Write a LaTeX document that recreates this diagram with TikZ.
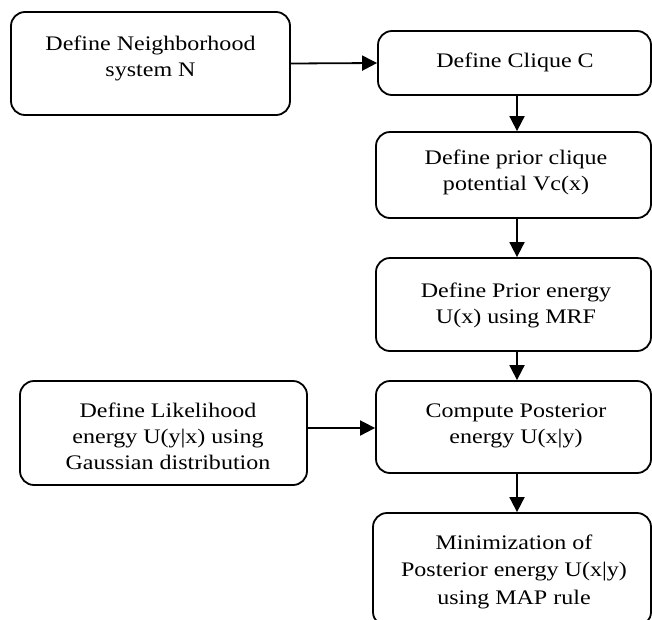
\documentclass[tikz,border=0pt]{standalone}
\usepackage{fontspec}
\setmainfont{Liberation Serif}[FakeStretch=1.16]
\usetikzlibrary{arrows.meta}
\begin{document}
\begin{tikzpicture}[x=1pt,y=-1pt,
  box/.style={draw=black,line width=1.8pt,rounded corners=14pt,inner sep=0pt,fill=none},
  txt/.style={align=center,anchor=base,inner sep=0pt,font=\fontsize{20.7}{26}\selectfont},
  arr/.style={line width=1.8pt,-{Triangle[length=15pt,width=15pt]}}]
\useasboundingbox (0,0) rectangle (652,619);
\clip (0,0) rectangle (652,619);
% boxes
\node[box,minimum width=279pt,minimum height=103pt] (b1) at (150.5,63.5) {};
\node[box,minimum width=273pt,minimum height=64pt]  (b2) at (514.5,63) {};
\node[box,minimum width=275pt,minimum height=86pt]  (b3) at (513.5,175) {};
\node[box,minimum width=275pt,minimum height=93pt]  (b4) at (513.5,304.5) {};
\node[box,minimum width=275pt,minimum height=92pt]  (b5) at (513.5,427) {};
\node[box,minimum width=287pt,minimum height=104pt] (bL) at (163.5,433) {};
\node[box,minimum width=278pt,minimum height=113pt] (b6) at (512,569.5) {};
% texts (anchored at the baseline of their last line)
\node[txt] (t1) at (150.5,76) {Define Neighborhood\\system N};
\node[txt] (t2) at (515,67) {Define Clique C};
\node[txt] (t3) at (516,190) {Define prior clique\\potential Vc(x)};
\node[txt] (t4) at (516,323) {Define Prior energy\\U(x) using MRF};
\node[txt] (t5) at (516,443) {Compute Posterior\\energy U(x|y)};
\node[txt] (tL) at (168,469) {Define Likelihood\\energy U(y|x) using\\Gaussian distribution};
\node[txt,font=\fontsize{20.7}{27.5}\selectfont] (t6) at (514,604) {Minimization of\\Posterior energy U(x|y)\\using MAP rule};
% connectors
\coordinate (ax) at (517,0);
\coordinate (ay) at (0,428);
\draw[arr] (b1.east) -- (b2.west);
\draw[arr] (b2.south -| ax) -- (b3.north -| ax);
\draw[arr] (b3.south -| ax) -- (b4.north -| ax);
\draw[arr] (b4.south -| ax) -- (b5.north -| ax);
\draw[arr] (b5.south -| ax) -- (b6.north -| ax);
\draw[arr] (bL.east |- ay) -- (b5.west |- ay);
\end{tikzpicture}
\end{document}
